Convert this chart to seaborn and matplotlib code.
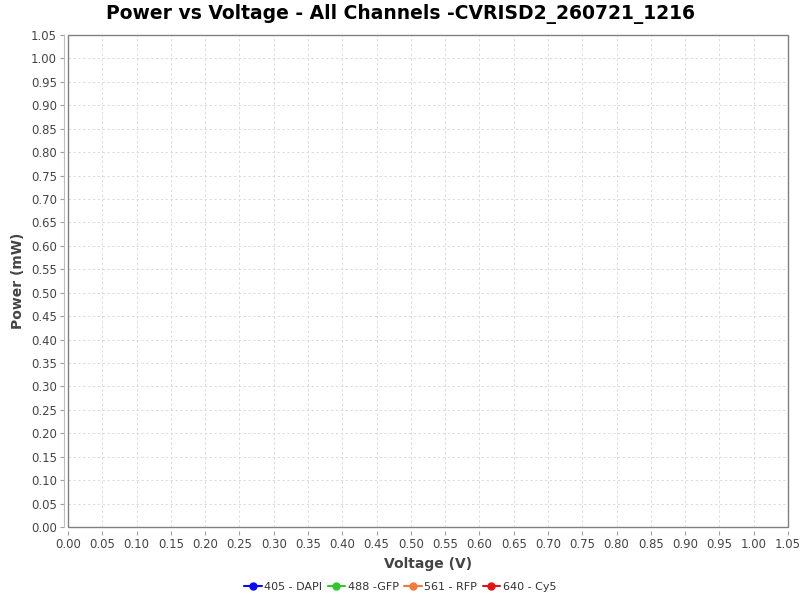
import matplotlib
matplotlib.use("Agg")
import matplotlib.pyplot as plt
import seaborn as sns
import numpy as np
from matplotlib.patches import Rectangle
from matplotlib.ticker import FormatStrFormatter, MultipleLocator

# Data (the reference chart has no plotted points)
channels = ["405 - DAPI", "488 -GFP", "561 - RFP", "640 - Cy5"]
channel_colors = ["#0a0af0", "#33c433", "#f07a40", "#e01515"]
voltages = [[], [], [], []]
powers = [[], [], [], []]

title = "Power vs Voltage - All Channels -CVRISD2_260721_1216"
x_label = "Voltage (V)"
y_label = "Power (mW)"
x_max = 1.05
y_max = 1.05
tick_step = 0.05

sns.set_theme(style="white")
plt.rcParams['font.family'] = ['DejaVu Sans']

fig = plt.figure(figsize=(8, 6), dpi=100)
fig.patch.set_facecolor("white")
ax = fig.add_axes([68/800, 1-527/600, 720/800, 492/600])
ax.set_facecolor("white")

for v, p, name, col in zip(voltages, powers, channels, channel_colors):
    ax.plot(v, p, marker="o", color=col, label=name, linewidth=1.5, markersize=5)

ax.set_xlim(0, x_max)
ax.set_ylim(0, y_max)
ax.xaxis.set_major_locator(MultipleLocator(tick_step))
ax.yaxis.set_major_locator(MultipleLocator(tick_step))
ax.xaxis.set_major_formatter(FormatStrFormatter("%.2f"))
ax.yaxis.set_major_formatter(FormatStrFormatter("%.2f"))

ax.grid(True, color="#dcdcdc", linestyle=(0, (2.5, 2.5)), linewidth=0.7)

for s in ["top", "right"]:
    ax.spines[s].set_visible(False)
for s in ["left", "bottom"]:
    ax.spines[s].set_position(("outward", 3))
    ax.spines[s].set_color("#bdbdbd")
    ax.spines[s].set_linewidth(0.8)
ax.spines["bottom"].set_visible(False)

# plot outline
ax.add_patch(Rectangle((0, 0), 1, 1, transform=ax.transAxes, fill=False,
                       edgecolor="#808080", linewidth=1.0, clip_on=False, zorder=5))

ax.tick_params(axis="both", which="major", direction="out", length=3, width=0.8,
               color="#a0a0a0", labelsize=8.4, labelcolor="#444444", pad=2,
               bottom=True, left=True)

ax.set_xlabel(x_label, fontsize=10, fontweight="bold", color="#444444", labelpad=4)
ax.set_ylabel(y_label, fontsize=10, fontweight="bold", color="#444444", labelpad=4)

fig.text(0.5, 1-14/600, title, ha="center", va="center", fontsize=13.5,
         fontweight="bold", color="black")

leg = fig.legend(loc="center", bbox_to_anchor=(0.5, 1-587/600), ncol=4,
                 frameon=False, fontsize=8, handlelength=1.6, handletextpad=0.2,
                 columnspacing=0.5, labelcolor="#333333")

fig.savefig("out.png", dpi=100)
